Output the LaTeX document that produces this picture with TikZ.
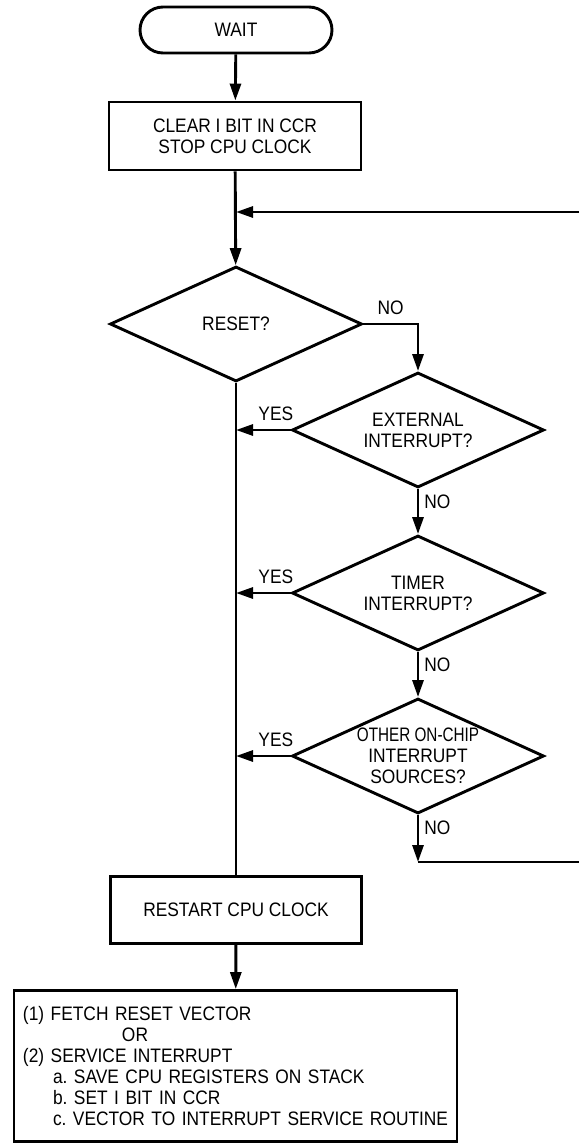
\documentclass[tikz,border=0pt]{standalone}
\usepackage{fontspec}
\setmainfont{Liberation Sans}[FakeStretch=0.89]
\usetikzlibrary{shapes.geometric,arrows.meta}
\frenchspacing

\begin{document}
\begin{tikzpicture}[x=1pt,y=-1pt,line width=2.9pt,
    font=\fontsize{19.5pt}{21pt}\selectfont,
    box/.style={draw,rectangle,align=center,inner sep=0pt},
    decision/.style={draw,diamond,inner sep=0pt,minimum width=252pt,minimum height=115pt},
    flow/.style={-{Triangle[length=17pt,width=11pt]}},
    lbl/.style={inner sep=0pt}]
  \useasboundingbox (0,0) rectangle (579,1145);
  \node[box,rounded corners=23pt,minimum width=192pt,minimum height=46pt] (wait) at (236,30) {WAIT};
  \node[box,minimum width=252pt,minimum height=68pt] (clear) at (235,136) {CLEAR I BIT IN CCR\\STOP CPU CLOCK};
  \coordinate (join) at (236,212);
  \node[decision,label={center:RESET?}] (reset) at (236,324) {};
  \node[decision,label={[align=center]center:EXTERNAL\\INTERRUPT?}] (ext) at (418,430) {};
  \node[decision,label={[align=center]center:TIMER\\INTERRUPT?}] (timer) at (418,593) {};
  \node[decision,label={[align=center]center:\scalebox{0.88}[1]{OTHER ON-CHIP}\\INTERRUPT\\SOURCES?}] (other) at (418,756) {};
  \coordinate (loopin) at (418,862);
  \coordinate (loopout) at (579,862);
  \coordinate (loopback) at (579,212);
  \node[box,minimum width=251pt,minimum height=67pt] (restart) at (236,910) {RESTART CPU CLOCK};
  \node[box,minimum width=443pt,minimum height=151pt,inner sep=9pt,text width=425pt,align=left] (fetch) at (235.5,1066) {(1) FETCH RESET VECTOR\\\hspace*{99pt}OR\\(2) SERVICE INTERRUPT\\\hspace*{30pt}a. SAVE CPU REGISTERS ON STACK\\\hspace*{30pt}b. SET I BIT IN CCR\\\hspace*{30pt}\mbox{c. VECTOR TO INTERRUPT SERVICE ROUTINE}};

  \draw[flow] (wait) -- (clear);
  \draw[flow] (clear) -- (reset);
  \draw[flow] (loopback) -- (join);
  \draw[flow] (reset.east) -| node[lbl,pos=0.25,above=8pt] {NO} (ext.north);
  \draw[flow] (ext.west) -- node[lbl,pos=0.27,above=8pt] {YES} (ext.west -| reset.south);
  \draw[flow] (ext.south) -- node[lbl,pos=0.28,right=5pt] {NO} (timer.north);
  \draw[flow] (timer.west) -- node[lbl,pos=0.27,above=8pt] {YES} (timer.west -| reset.south);
  \draw[flow] (timer.south) -- node[lbl,pos=0.28,right=5pt] {NO} (other.north);
  \draw[flow] (other.west) -- node[lbl,pos=0.27,above=8pt] {YES} (other.west -| reset.south);
  \draw[flow] (other.south) -- node[lbl,pos=0.28,right=5pt] {NO} (loopin);
  \draw (loopin) -- (loopout);
  \draw (reset.south) -- (restart.north);
  \draw[flow] (restart) -- (fetch);
\end{tikzpicture}
\end{document}
